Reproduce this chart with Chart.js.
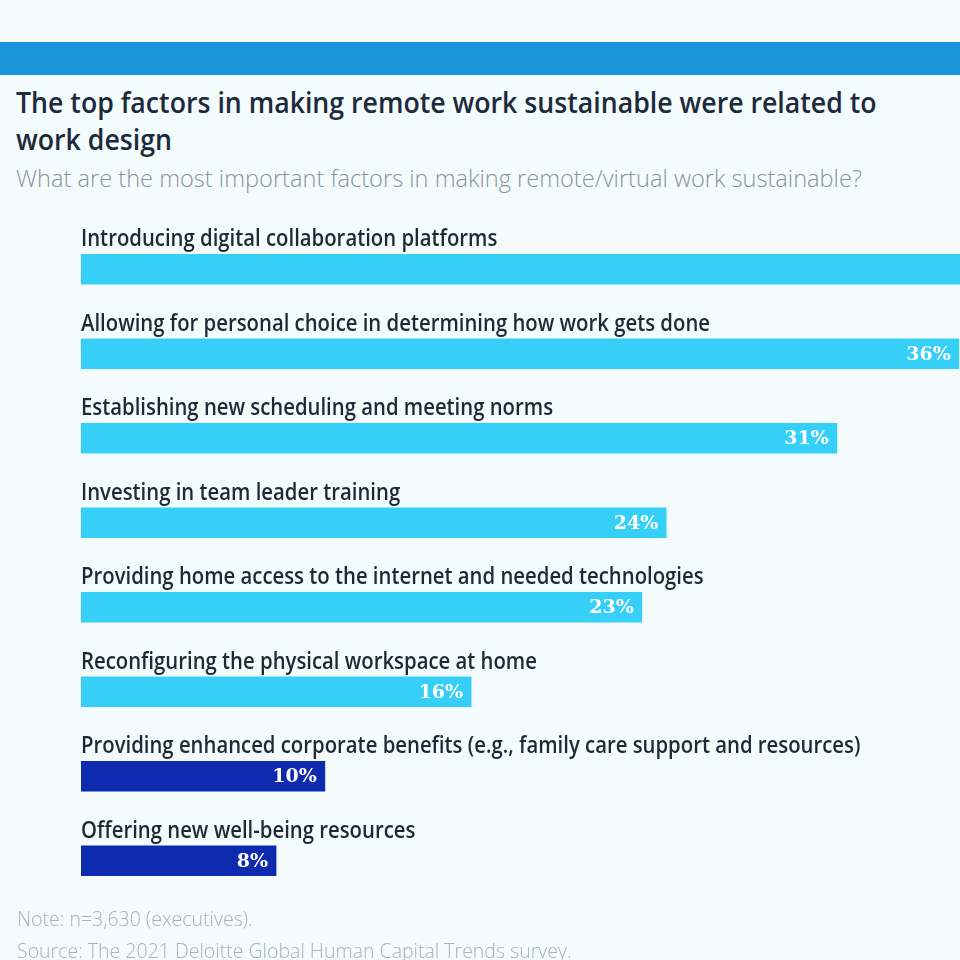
<!DOCTYPE html>
<html>
<head>
<meta charset="utf-8">
<script src="https://cdn.jsdelivr.net/npm/chart.js@4"></script>
<style>
    html, body { margin: 0; padding: 0; background: #f3fbfd; }
    #wrap { position: relative; width: 960px; height: 960px; overflow: hidden; }
    #band { position: absolute; left: 0; top: 42px; width: 960px; height: 33px; background: #1a95dc; }
    #title { position: absolute; left: 16px; top: 84px; margin: 0; font: 600 28px/37px "Open Sans", sans-serif;
             font-stretch: 89%; color: #1c2a3b; white-space: nowrap;
             transform: scaleX(0.953); transform-origin: 0 0; }
    #subtitle { position: absolute; left: 16px; top: 164px; margin: 0; font: 300 23.6px/28px "Open Sans", sans-serif;
                color: #8b939a; white-space: nowrap; }
    .foot { position: absolute; left: 17px; margin: 0; font: 300 19.5px/22px "Open Sans", sans-serif; color: #aab1b6;
            white-space: nowrap; }
    canvas { position: absolute; left: 0; top: 0; }
</style>
</head>
<body>
<div id="wrap">
    <div id="band"></div>
    <h1 id="title">The top factors in making remote work sustainable were related to<br>work design</h1>
    <p id="subtitle">What are the most important factors in making remote/virtual work sustainable?</p>
    <canvas id="chart" width="960" height="960"></canvas>
    <p class="foot" style="top:908px">Note: n=3,630 (executives).</p>
    <p class="foot" style="top:940px">Source: The 2021 Deloitte Global Human Capital Trends survey.</p>
</div>
<script>
const categories = [
    'Introducing digital collaboration platforms',
    'Allowing for personal choice in determining how work gets done',
    'Establishing new scheduling and meeting norms',
    'Investing in team leader training',
    'Providing home access to the internet and needed technologies',
    'Reconfiguring the physical workspace at home',
    'Providing enhanced corporate benefits (e.g., family care support and resources)',
    'Offering new well-being resources'
];
// first bar runs off the right edge in the picture, so its value is a guess
const shares = [44, 36, 31, 24, 23, 16, 10, 8];
const barColors = ['#36cff7', '#36cff7', '#36cff7', '#36cff7', '#36cff7', '#36cff7', '#0e2bb0', '#0e2bb0'];

const barLabels = {
    id: 'barLabels',
    afterDatasetsDraw(chart) {
        const ctx = chart.ctx;
        const area = chart.chartArea;
        const meta = chart.getDatasetMeta(0);
        meta.data.forEach((bar, i) => {
            const p = bar.getProps(['x', 'y', 'height'], true);
            // category text above the bar, slightly narrowed like the source
            ctx.save();
            ctx.translate(area.left, p.y - p.height / 2 - 8);
            ctx.scale(0.883, 1);
            ctx.font = '600 23px "Open Sans", sans-serif';
            ctx.fillStyle = '#1e2935';
            ctx.textAlign = 'left';
            ctx.textBaseline = 'alphabetic';
            ctx.fillText(categories[i], 0, 0);
            ctx.restore();
            // value inside the bar end
            if (p.x <= area.right) {
                ctx.save();
                ctx.font = 'bold 19px "DejaVu Serif", serif';
                ctx.fillStyle = '#ffffff';
                ctx.textAlign = 'right';
                ctx.textBaseline = 'middle';
                ctx.fillText(shares[i] + '%', p.x - 8, p.y + 1);
                ctx.restore();
            }
        });
    }
};

const chart = new Chart(document.getElementById('chart').getContext('2d'), {
    type: 'bar',
    data: {
        labels: categories,
        datasets: [{
            data: shares,
            backgroundColor: barColors,
            borderWidth: 0,
            barThickness: 30
        }]
    },
    options: {
        indexAxis: 'y',
        responsive: false,
        animation: false,
        layout: {
            padding: { left: 81, top: 227, right: 0, bottom: 57 }
        },
        scales: {
            x: { min: 0, max: 36.05, display: false },
            y: { display: false }
        },
        plugins: {
            legend: { display: false },
            tooltip: { enabled: false }
        }
    },
    plugins: [barLabels]
});
</script>
</body>
</html>
